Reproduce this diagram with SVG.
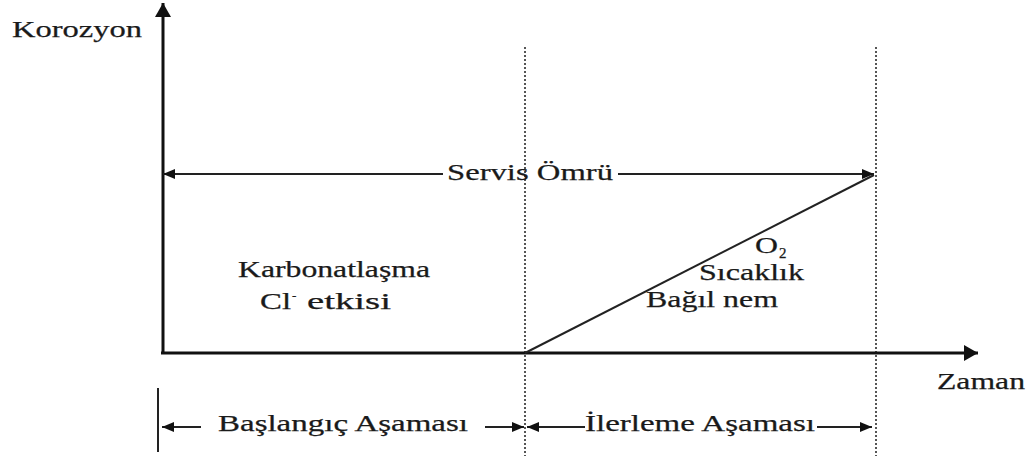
<svg xmlns="http://www.w3.org/2000/svg" width="1035" height="464" viewBox="0 0 1035 464">
<defs>
<style>
.t{font-family:"Liberation Serif","Times New Roman",serif;font-size:23px;fill:#1a1a1a;stroke:#1a1a1a;stroke-width:0.25}
.ln{stroke:#222;stroke-width:2;fill:none}
.ax{stroke:#111;stroke-width:3;fill:none}
.dot{stroke:#555;stroke-width:2;stroke-dasharray:2 2;fill:none}
</style>
<marker id="ah" viewBox="0 0 12 10" refX="12" refY="5" markerWidth="12" markerHeight="10" markerUnits="userSpaceOnUse" orient="auto">
<path d="M0,0 L12,5 L0,10 Z" fill="#111"/>
</marker>
<marker id="ahb" viewBox="0 0 14 16" refX="14" refY="8" markerWidth="14" markerHeight="16" markerUnits="userSpaceOnUse" orient="auto">
<path d="M0,0 L14,8 L0,16 Z" fill="#111"/>
</marker>
</defs>
<rect width="1035" height="464" fill="#fff"/>
<g id="guides">
<line class="dot" x1="525" y1="47" x2="525" y2="456"/>
<line class="dot" x1="876" y1="47" x2="876" y2="456"/>
</g>
<g id="axes">
<line class="ax" x1="163" y1="353" x2="163" y2="3" marker-end="url(#ahb)"/>
<line class="ax" x1="161" y1="353" x2="978" y2="353" marker-end="url(#ahb)"/>
<line class="ln" x1="158" y1="388" x2="158" y2="452"/>
</g>
<g id="connectors">
<line class="ln" x1="443" y1="174" x2="163" y2="174" marker-end="url(#ah)"/>
<line class="ln" x1="618" y1="174" x2="874" y2="174" marker-end="url(#ah)"/>
<line class="ln" x1="525" y1="353" x2="874" y2="175"/>
<line class="ln" x1="201" y1="427" x2="162" y2="427" marker-end="url(#ah)"/>
<line class="ln" x1="485" y1="427" x2="524" y2="427" marker-end="url(#ah)"/>
<line class="ln" x1="585" y1="427" x2="527" y2="427" marker-end="url(#ah)"/>
<line class="ln" x1="817" y1="427" x2="872" y2="427" marker-end="url(#ah)"/>
</g>
<g id="labels">
<text class="t" x="12" y="37" textLength="130" lengthAdjust="spacingAndGlyphs">Korozyon</text>
<text class="t" x="447" y="180" textLength="166" lengthAdjust="spacingAndGlyphs">Servis Ömrü</text>
<text class="t" x="937" y="389" textLength="88" lengthAdjust="spacingAndGlyphs">Zaman</text>
<text class="t" x="218" y="431" textLength="250" lengthAdjust="spacingAndGlyphs">Başlangıç Aşaması</text>
<text class="t" x="585" y="431" textLength="230" lengthAdjust="spacingAndGlyphs">İlerleme Aşaması</text>
</g>
<g id="region1">
<text class="t" x="238" y="277" textLength="192" lengthAdjust="spacingAndGlyphs">Karbonatlaşma</text>
<text class="t" x="260" y="309"><tspan textLength="31" lengthAdjust="spacingAndGlyphs">Cl</tspan><tspan x="292" dy="-9" font-size="13">-</tspan></text>
<text class="t" x="307" y="309" textLength="84" lengthAdjust="spacingAndGlyphs">etkisi</text>
</g>
<g id="region2">
<text class="t" x="755" y="253"><tspan textLength="23" lengthAdjust="spacingAndGlyphs">O</tspan><tspan x="779" dy="5" font-size="15">2</tspan></text>
<text class="t" x="699" y="280" textLength="105" lengthAdjust="spacingAndGlyphs">Sıcaklık</text>
<text class="t" x="646" y="307" textLength="132" lengthAdjust="spacingAndGlyphs">Bağıl nem</text>
</g>
</svg>
